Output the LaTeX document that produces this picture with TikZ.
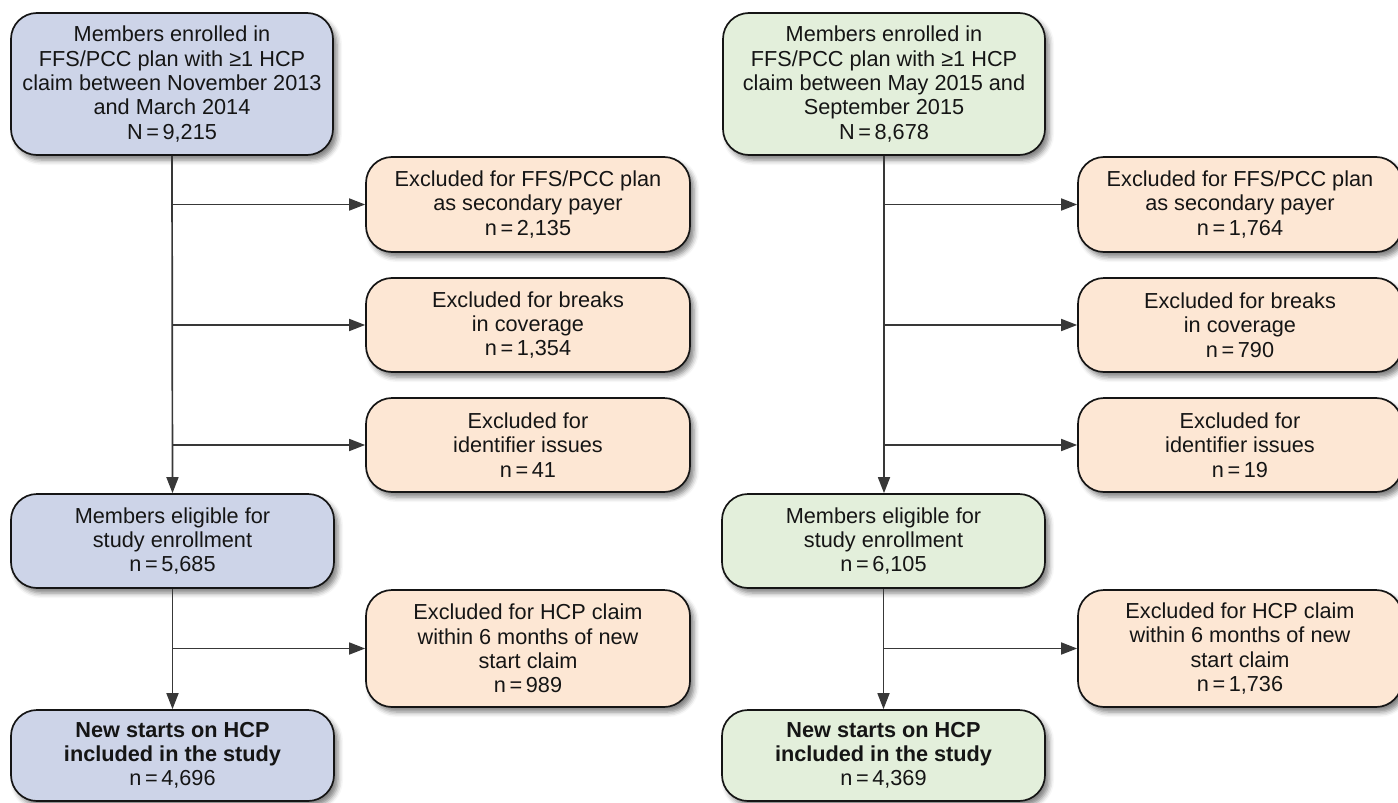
\documentclass[tikz,border=0pt]{standalone}
\usepackage{fontspec}
\setmainfont{Liberation Sans}
\usetikzlibrary{arrows.meta,shadows.blur}
\definecolor{boxblue}{HTML}{CDD4E8}
\definecolor{boxgreen}{HTML}{E3EFDB}
\definecolor{boxpeach}{HTML}{FDE7D4}
\definecolor{inkc}{HTML}{151515}
\tikzset{
  basebox/.style={draw=inkc, line width=1.7pt, rounded corners=26pt, align=center,
    inner sep=0pt, text=inkc, font=\fontsize{21.7}{24.3}\selectfont,
    blur shadow={shadow xshift=4pt, shadow yshift=-5pt, shadow blur radius=5pt, shadow opacity=50}},
  bluebox/.style={basebox, fill=boxblue},
  greenbox/.style={basebox, fill=boxgreen},
  exbox/.style={basebox, fill=boxpeach, minimum width=324pt},
  flow/.style={draw=inkc!85, line width=1.7pt, -{Triangle[length=16pt,width=12pt]}}
}
\newcommand{\eqs}{\,=\,}
\begin{document}
\begin{tikzpicture}[x=1pt,y=-1pt]
\useasboundingbox (0,0) rectangle (1398,803);

% ---------- left column ----------
\node[bluebox, minimum width=322pt, minimum height=142pt] (la1) at (172,84)
  {Members enrolled in\\FFS/PCC plan with ≥1 HCP\\claim between November 2013\\and March 2014\\N\eqs9,215};
\node[exbox, minimum height=95pt] (le1) at (528,204.5)
  {Excluded for FFS/PCC plan\\as secondary payer\\n\eqs2,135};
\node[exbox, minimum height=94pt] (le2) at (528,325)
  {Excluded for breaks\\in coverage\\n\eqs1,354};
\node[exbox, minimum height=94pt] (le3) at (528,445)
  {Excluded for\\identifier issues\\n\eqs41};
\node[bluebox, minimum width=323pt, minimum height=94pt] (la2) at (172.5,541)
  {Members eligible for\\study enrollment\\n\eqs5,685};
\node[exbox, minimum height=117pt] (le4) at (528,648.5)
  {Excluded for HCP claim\\within 6 months of new\\start claim\\n\eqs989};
\node[bluebox, minimum width=323pt, minimum height=91pt] (la3) at (172.5,755.5)
  {\textbf{New starts on HCP}\\\textbf{included in the study}\\n\eqs4,696};

\draw[flow] (la1.south) -- (la2.north);
\draw[flow] (la2.south) -- (la3.north);
\draw[flow] (la1.south |- le1.west) -- (le1.west);
\draw[flow] (la1.south |- le2.west) -- (le2.west);
\draw[flow] (la1.south |- le3.west) -- (le3.west);
\draw[flow] (la2.south |- le4.west) -- (le4.west);

% ---------- right column ----------
\node[greenbox, minimum width=322pt, minimum height=142pt] (ra1) at (884,84)
  {Members enrolled in\\FFS/PCC plan with ≥1 HCP\\claim between May 2015 and\\September 2015\\N\eqs8,678};
\node[exbox, minimum height=95pt] (re1) at (1240,204.5)
  {Excluded for FFS/PCC plan\\as secondary payer\\n\eqs1,764};
\node[exbox, minimum height=94pt] (re2) at (1240,325)
  {Excluded for breaks\\in coverage\\n\eqs790};
\node[exbox, minimum height=94pt] (re3) at (1240,445)
  {Excluded for\\identifier issues\\n\eqs19};
\node[greenbox, minimum width=323pt, minimum height=94pt] (ra2) at (883.5,541)
  {Members eligible for\\study enrollment\\n\eqs6,105};
\node[exbox, minimum height=117pt] (re4) at (1240,648.5)
  {Excluded for HCP claim\\within 6 months of new\\start claim\\n\eqs1,736};
\node[greenbox, minimum width=323pt, minimum height=91pt] (ra3) at (883.5,755.5)
  {\textbf{New starts on HCP}\\\textbf{included in the study}\\n\eqs4,369};

\draw[flow] (ra1.south) -- (ra1.south |- ra2.north);
\draw[flow] (ra2.south) -- (ra3.north);
\draw[flow] (ra1.south |- re1.west) -- (re1.west);
\draw[flow] (ra1.south |- re2.west) -- (re2.west);
\draw[flow] (ra1.south |- re3.west) -- (re3.west);
\draw[flow] (ra2.south |- re4.west) -- (re4.west);
\end{tikzpicture}
\end{document}
